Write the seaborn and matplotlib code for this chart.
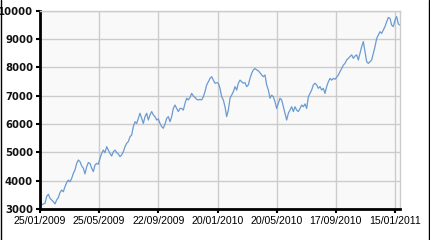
import matplotlib
matplotlib.use("Agg")
import matplotlib.pyplot as plt
import matplotlib.dates as mdates
from matplotlib.lines import Line2D
import seaborn as sns
import pandas as pd

start_date = "2009-01-25"
end_date = "2011-01-25"

values = [
    3320, 3140, 3180, 3200, 3440, 3520, 3380, 3320, 3260, 3180,
    3320, 3400, 3580, 3670, 3610, 3790, 3930, 4020, 3960, 4080,
    4260, 4380, 4610, 4730, 4670, 4520, 4440, 4240, 4490, 4640,
    4610, 4440, 4320, 4550, 4610, 4580, 4790, 4960, 5080, 4990,
    5200, 5080, 4960, 4870, 5020, 5080, 4990, 4940, 4850, 4910,
    5020, 5200, 5320, 5380, 5550, 5610, 5910, 6080, 6020, 6200,
    6380, 6200, 6020, 6260, 6380, 6140, 6320, 6440, 6320, 6260,
    6140, 6180, 6020, 5910, 5850, 6000, 6200, 6260, 6080, 6260,
    6550, 6670, 6550, 6440, 6550, 6550, 6490, 6730, 6910, 6850,
    6940, 7080, 6990, 6940, 6870, 6850, 6870, 6850, 6960, 7140,
    7380, 7490, 7610, 7670, 7550, 7440,
    7460, 7440, 7260, 6960, 6850, 6610, 6260, 6490, 6910, 7020,
    7140, 7320, 7200, 7440, 7550, 7490, 7440, 7460, 7320, 7380,
    7610, 7790, 7910, 7960, 7910, 7880, 7810, 7730, 7670, 7730,
    7380, 7200, 6910, 7020, 6960, 6790, 6550, 6730, 6910, 6850,
    6610, 6380, 6140, 6380, 6490, 6610, 6440, 6610, 6490, 6440,
    6550, 6670, 6610, 6710, 6550, 6960, 7080, 7200, 7380, 7440,
    7380, 7260, 7320, 7200, 7260, 7080, 7320, 7490, 7610, 7550,
    7610, 7580, 7650, 7730, 7850, 7960, 8080, 8140, 8260, 8320,
    8380, 8440, 8320, 8400, 8440, 8260, 8490, 8730, 8910, 8550,
    8200, 8140, 8200, 8260, 8490, 8730, 9020, 9140, 9260, 9200,
    9320, 9440, 9610, 9760, 9730, 9490, 9440, 9670, 9790, 9530,
    9490,
]

tick_dates = ["2009-01-25", "2009-05-25", "2009-09-22", "2010-01-20",
              "2010-05-20", "2010-09-17", "2011-01-15"]
y_ticks = [3000, 4000, 5000, 6000, 7000, 8000, 9000, 10000]

df = pd.DataFrame({
    "Date": pd.date_range(start_date, end_date, periods=len(values)),
    "Value": values,
})

sns.set_theme(style="whitegrid")
plt.rcParams["font.family"] = ["DejaVu Sans"]

fig = plt.figure(figsize=(4.3, 2.4), dpi=100)
ax = fig.add_axes([40 / 430, 1 - 209 / 240, 360 / 430, (209 - 10.7) / 240])
ax.set_facecolor("#f9f9f9")

sns.lineplot(data=df, x="Date", y="Value", ax=ax, color="#6a9bd1", linewidth=0.9)

ax.set_xlim(pd.Timestamp(start_date), pd.Timestamp(end_date))
ax.set_ylim(3000, 10000)
ax.set_xticks(pd.to_datetime(tick_dates))
ax.xaxis.set_major_formatter(mdates.DateFormatter("%d/%m/%Y"))
ax.set_yticks(y_ticks)

ax.grid(True, color="#cccccc", linewidth=1.0)
for side in ["top", "right"]:
    ax.spines[side].set_color("#cccccc")
    ax.spines[side].set_linewidth(1.0)
for side in ["left", "bottom"]:
    ax.spines[side].set_color("black")
    ax.spines[side].set_linewidth(2.0)

ax.tick_params(axis="both", which="major", direction="out", length=3, width=1.5,
               color="black", pad=2, bottom=True, left=True)
for lab in ax.get_xticklabels():
    lab.set_fontfamily("Liberation Sans")
    lab.set_fontsize(7.6)
    lab.set_color("black")
for lab in ax.get_yticklabels():
    lab.set_fontweight("bold")
    lab.set_fontsize(7.3)
    lab.set_color("#111111")

ax.set_ylabel("")
ax.set_xlabel("Date", fontsize=8, fontweight="bold", labelpad=10, color="black")

fig.add_artist(Line2D([0.5 / 430, 0.5 / 430], [0, 1], color="black", linewidth=1.0,
                      transform=fig.transFigure))
fig.add_artist(Line2D([428.5 / 430, 428.5 / 430], [0, 1], color="black", linewidth=1.0,
                      transform=fig.transFigure))

fig.savefig("out.png", dpi=100)
